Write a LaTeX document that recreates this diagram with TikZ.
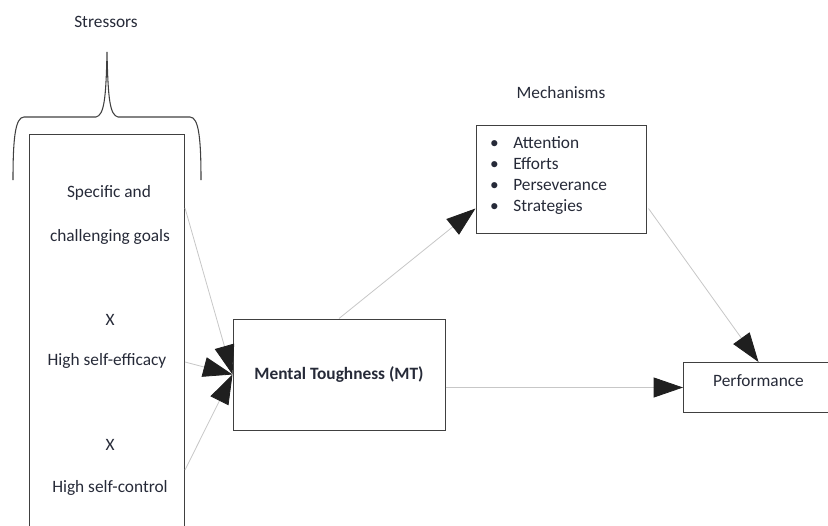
\documentclass[tikz,border=0pt]{standalone}
\usepackage{fontspec}
\setmainfont{Carlito}
\usetikzlibrary{positioning,calc,arrows.meta}
\definecolor{ink}{RGB}{38,42,56}
\definecolor{edge}{RGB}{64,64,64}

\begin{document}
\begin{tikzpicture}[
    x=0.75pt, y=-0.75pt,
    font=\fontsize{13}{15.75}\selectfont,
    text=ink,
    box/.style={ draw=edge,
      line width=0.75pt,
      anchor=center,
      align=center,
      minimum height=37.5pt,
      minimum width=112.5pt},
    lbl/.style={inner sep=1pt},
    arr/.style={draw=black!22, line width=0.6pt,
      -{Triangle[length=22pt,width=15pt,color=black!88]}}]
    \clip (0,0) rectangle (828,525);

    % stressor column
    \node[lbl] (Stressors) at (106,22) {Stressors};
    \node[box, anchor=north west, minimum width=116.25pt, minimum height=330pt] (Stress) at (29,134) {};
    \node[lbl] (G1) at (109,193) {Specific and};
    \node[lbl] (G2) at (110,237) {challenging goals};
    \node[lbl] (X1) at (110,320) {X};
    \node[lbl] (E1) at (107,361) {High self-efficacy};
    \node[lbl] (X2) at (110,445) {X};
    \node[lbl] (C1) at (110,488) {High self-control};
    \draw[edge, line width=0.8pt] (13,180) .. controls (13,140) and (15,117) .. (24,117)
      -- (96,117) .. controls (104,115) and (106,100) .. (107,52)
      .. controls (108,100) and (110,115) .. (118,117)
      -- (190,117) .. controls (199,117) and (201,140) .. (201,180);

    \node[box, minimum width=159pt, minimum height=83.25pt, font=\fontsize{13}{15.75}\selectfont\bfseries] (MT) at (339,374.5) {Mental Toughness (MT)};
    \node[box, minimum width=127.5pt, minimum height=81pt, align=left,
      text width=106.5pt, inner xsep=10.5pt] (Mech) at (561,179)
      {\textbullet\hspace{11pt}Attention\\
       \textbullet\hspace{11pt}Efforts\\
       \textbullet\hspace{11pt}Perseverance\\
       \textbullet\hspace{11pt}Strategies\par\vspace{5pt}};
    \node[lbl, above=18pt of Mech] (MechLbl) {Mechanisms};
    \node[box, anchor=west, text height=9pt, text depth=10pt] (Perf) at (683,387.5) {Performance};

    \draw[arr] ($(Stress.north east)+(0,74)$) -- (MT.west);
    \draw[arr] ($(Stress.north east)+(0,228)$) -- (MT.west);
    \draw[arr] ($(Stress.north east)+(0,336)$) -- (MT.west);
    \draw[arr] (MT.north) -- ($(Mech.south west)+(0,-25)$);
    \draw[arr] (MT.east |- Perf.west) -- (Perf.west);
    \draw[arr] ($(Mech.south east)+(2,-25)$) -- (Perf.north);
\end{tikzpicture}
\end{document}
